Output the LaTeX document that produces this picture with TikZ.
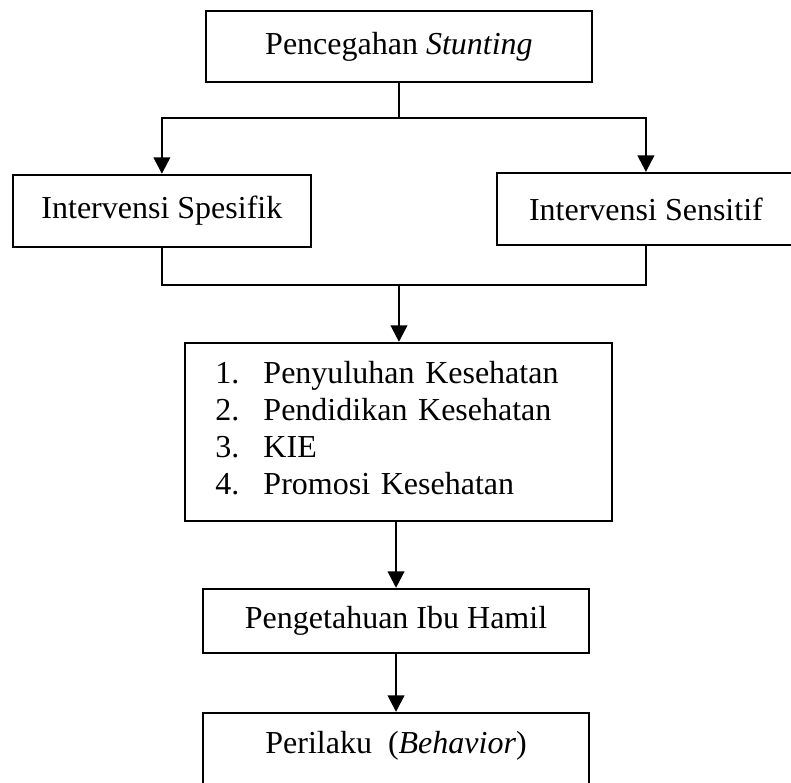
\documentclass[tikz,border=0pt]{standalone}
\usepackage{fontspec}
\setmainfont{Liberation Serif}
\usepackage{tikz}
\usetikzlibrary{positioning, arrows.meta, calc}

\begin{document}
\begin{tikzpicture}[
    node distance=30pt and 20pt,
    >={Triangle[length=6.2pt, width=6.2pt]},
    box/.style={rectangle, draw, line width=0.75pt, minimum width=144.4pt, minimum height=24pt, align=center, inner sep=0pt, font=\fontsize{12}{13.9}\selectfont},
    listbox/.style={box, align=left, text width=137.6pt, inner xsep=11.25pt, minimum height=66.75pt},
    line/.style={line width=0.75pt},
    arrow/.style={->, line width=0.9pt}
]
\useasboundingbox (0,0) rectangle (296.6pt,-293.6pt);
\clip (0,0) rectangle (296.6pt,-293.6pt);

\node[box, minimum width=144.75pt, minimum height=26.6pt] (pencegahan) at (149.6pt,-17.4pt) {Pencegahan \textit{Stunting}};
\node[box, minimum width=111.75pt, minimum height=27pt, below=34.1pt of pencegahan, xshift=-88.9pt] (spesifik) {Intervensi Spesifik};
\node[box, minimum width=112pt, minimum height=27pt, below=33.4pt of pencegahan, xshift=92.6pt] (sensitif) {Intervensi Sensitif};
\node[listbox, below=97.1pt of pencegahan] (upaya) {\makebox[18pt][l]{1.}Penyuluhan Kesehatan\\
\makebox[18pt][l]{2.}Pendidikan Kesehatan\\
\makebox[18pt][l]{3.}KIE\\
\makebox[18pt][l]{4.}Promosi Kesehatan\\[-11pt]\mbox{}};
\node[box, below=24.75pt of upaya, xshift=-1.1pt] (pengetahuan) {Pengetahuan Ibu Hamil};
\node[box, below=21.75pt of pengetahuan, text height=15.4pt, text depth=30pt] (perilaku) {Perilaku\ \ (\textit{Behavior})};

\coordinate (cabang) at ($(pencegahan.south)+(0,-13.1pt)$);
\coordinate (gabung) at ($(spesifik.south)+(0,-13.9pt)$);

\draw[line] (pencegahan) -- (cabang);
\draw[arrow] (cabang) -| (spesifik);
\draw[arrow] (cabang) -| (sensitif);
\draw[line] (spesifik) |- (gabung -| sensitif) -- (sensitif);
\draw[arrow] (gabung -| upaya) -- (upaya);
\draw[arrow] (upaya.south -| pengetahuan) -- (pengetahuan);
\draw[arrow] (pengetahuan) -- (perilaku);
\end{tikzpicture}
\end{document}
